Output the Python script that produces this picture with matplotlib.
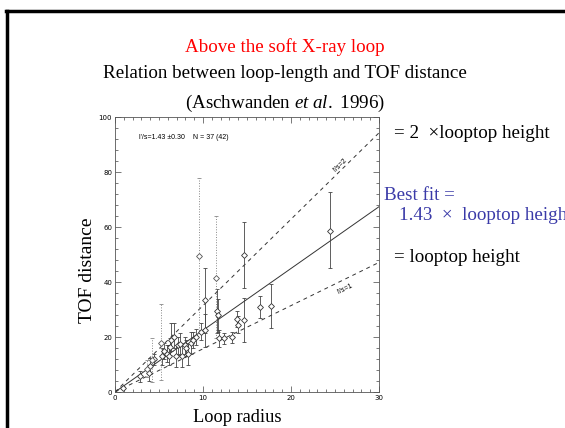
import numpy as np
import matplotlib.pyplot as plt
from matplotlib.lines import Line2D
from matplotlib.ticker import MultipleLocator

plt.rcParams['mathtext.fontset'] = 'custom'
plt.rcParams['mathtext.rm'] = 'Liberation Serif'
plt.rcParams['mathtext.it'] = 'Liberation Serif:italic'

# Loop radius vs TOF distance
radius = [0.9, 2.8, 3.6, 3.9, 4.0, 4.2, 4.4, 5.2, 5.3, 5.6, 5.9, 6.1, 6.2, 6.4,
          6.7, 6.9, 7.2, 7.4, 7.6, 7.9, 8.1, 8.3, 8.6, 8.9, 9.2, 9.6, 9.8, 10.2,
          10.2, 11.5, 11.6, 11.7, 11.8, 12.4, 13.3, 13.9, 14.0, 14.7, 14.7, 16.5,
          17.7, 24.4]
tof = [1.5, 5.8, 8.5, 7.0, 9.5, 11.5, 12.0, 18.0, 13.0, 15.0, 14.0, 13.0, 16.5,
       19.0, 20.0, 13.0, 17.0, 17.5, 13.0, 17.0, 16.0, 14.0, 18.0, 19.0, 20.0,
       49.5, 22.0, 33.5, 22.5, 41.5, 29.5, 28.0, 19.5, 19.5, 20.0, 26.5, 24.5,
       49.8, 26.3, 30.8, 31.3, 58.5]
err_lo = [0.5, 2.0, 3.0, 3.0, 3.0, 7.7, 2.0, 13.5, 3.0, 3.0, 3.0, 3.0, 3.0, 4.0,
          4.0, 4.0, 3.0, 4.0, 4.0, 3.0, 3.0, 4.0, 4.0, 3.0, 3.0, 28.0, 3.0, 12.0,
          6.0, 22.0, 8.0, 6.0, 3.0, 2.0, 2.0, 3.0, 3.0, 12.0, 8.0, 4.0, 8.0, 13.5]
err_hi = [0.5, 2.0, 3.0, 3.0, 3.0, 8.0, 2.0, 14.0, 3.0, 3.0, 3.0, 4.0, 3.0, 6.0,
          5.0, 4.0, 3.0, 4.0, 4.0, 3.0, 3.0, 4.0, 4.0, 3.0, 3.0, 28.5, 3.0, 11.5,
          6.0, 22.5, 8.0, 6.0, 3.0, 2.0, 2.0, 3.0, 3.0, 12.0, 8.0, 4.0, 8.0, 14.3]
excluded = [False, False, True, False, False, True, False, True, False, False,
            False, False, False, False, False, False, False, False, False, False,
            False, False, False, False, False, True, False, False, False, True,
            False, False, False, False, False, False, False, False, False, False,
            False, False]

# reference lines l'/s = 1, best fit, 2  (TOF = factor * pi/2 * radius)
line_factors = [1.0, 1.43, 2.0]
line_styles = ['--', '-', '--']

radius = np.array(radius)
tof = np.array(tof)
err = np.array([err_lo, err_hi])
excluded = np.array(excluded)

fig = plt.figure(figsize=(5.65, 4.28), dpi=100)
serif = ['Liberation Serif', 'DejaVu Serif']
sans = ['Liberation Sans', 'DejaVu Sans']

ax = fig.add_axes([0.2035, 0.0841, 0.4673, 0.6425])

xs = np.array([0, 30])
for f, ls in zip(line_factors, line_styles):
    ax.plot(xs, f * np.pi / 2 * xs, color='#333333', lw=0.7, linestyle=ls,
            dashes=(4, 4) if ls == '--' else (None, None))

# kept points: solid bars; excluded ones: dotted bars
keep = ~excluded
ax.errorbar(radius[keep], tof[keep], yerr=err[:, keep], fmt='D', ms=3,
            mfc='white', mec='#333333', mew=0.6, ecolor='#444444',
            elinewidth=0.6, capsize=1.5, capthick=0.6)
eb = ax.errorbar(radius[excluded], tof[excluded], yerr=err[:, excluded], fmt='D',
                 ms=3, mfc='white', mec='#555555', mew=0.6, ecolor='#888888',
                 elinewidth=0.7, capsize=1.5, capthick=0.6)
for c in eb[2]:
    c.set_linestyle(':')

ax.set_xlim(0, 30)
ax.set_ylim(0, 100)
ax.xaxis.set_major_locator(MultipleLocator(10))
ax.xaxis.set_minor_locator(MultipleLocator(1))
ax.yaxis.set_major_locator(MultipleLocator(20))
ax.yaxis.set_minor_locator(MultipleLocator(4))
ax.tick_params(which='both', direction='in', top=True, right=True,
               labelsize=5, width=0.5, color='#444444', pad=2)
ax.tick_params(which='major', length=4)
ax.tick_params(which='minor', length=2)
for s in ax.spines.values():
    s.set_linewidth(0.6)
    s.set_color('#555555')

ax.text(2.7, 92.5, "l'/s=1.43 \u00b10.30    N = 37 (42)", fontsize=5,
        family=sans, va='center')
ax.text(25.6, 82.5, "l'/s=2", fontsize=5, family=sans, ha='center',
        va='center', rotation=np.degrees(np.arctan(np.pi)),
        transform_rotates_text=True, rotation_mode='anchor')
ax.text(26.2, 37.5, "l'/s=1", fontsize=5, family=sans, ha='center',
        va='center', rotation=np.degrees(np.arctan(np.pi / 2)),
        transform_rotates_text=True, rotation_mode='anchor')

# axis labels placed like the slide text boxes
fig.text(237 / 565, 1 - 418 / 428, 'Loop radius', fontsize=13.2, family=serif,
         ha='center', va='center')
fig.text(87 / 565, 1 - 270 / 428, 'TOF distance', fontsize=14, family=serif,
         ha='center', va='center', rotation=90)

# slide titles
fig.text(0.504, 1 - 47 / 428, 'Above the soft X-ray loop', color='red',
         fontsize=13.7, family=serif, ha='center', va='center')
fig.text(0.504, 1 - 74 / 428, 'Relation between loop-length and TOF distance',
         fontsize=13.7, family=serif, ha='center', va='center')
fig.text(0.504, 1 - 103 / 428, '(Aschwanden $et\\ al.$ 1996)',
         fontsize=13.7, family=serif, ha='center', va='center')

# right-hand notes
fig.text(394 / 565, 1 - 133 / 428, '= 2  \u00d7looptop height', fontsize=13.7,
         family=serif, va='center')
blue = '#3a3aa8'
fig.text(384 / 565, 1 - 195 / 428, 'Best fit =', fontsize=13.7, family=serif,
         va='center', color=blue)
fig.text(399 / 565, 1 - 216 / 428, '1.43  \u00d7  looptop height', fontsize=13.7,
         family=serif, va='center', color=blue)
fig.text(394 / 565, 1 - 257 / 428, '= looptop height', fontsize=13.7,
         family=serif, va='center')

# slide border (left and top edges)
fig.add_artist(Line2D([7 / 565, 7 / 565], [0, 1 - 11 / 428], color='black',
                      lw=2.5, transform=fig.transFigure))
fig.add_artist(Line2D([6 / 565, 1], [1 - 11 / 428, 1 - 11 / 428], color='black',
                      lw=2.5, transform=fig.transFigure))

fig.savefig('out.png', dpi=100)
